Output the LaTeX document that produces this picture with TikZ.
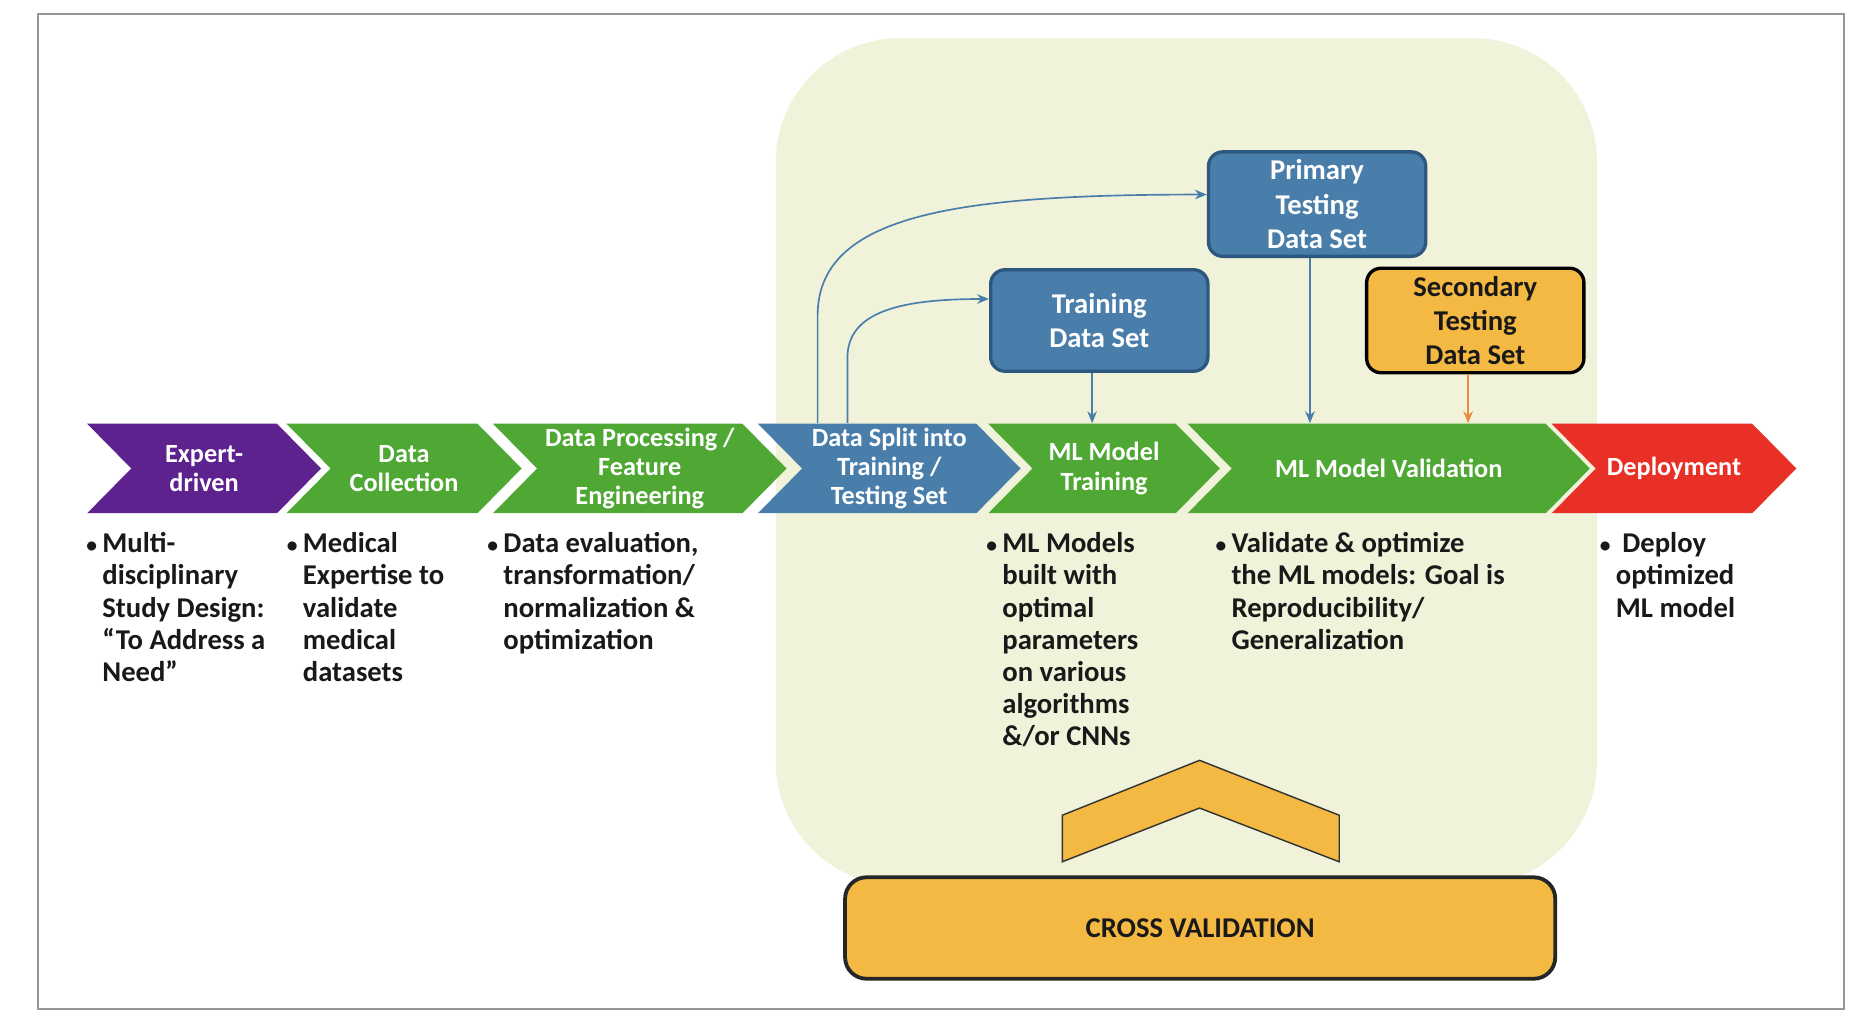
\documentclass[tikz,border=0pt]{standalone}
\usepackage{fontspec}
\setmainfont{Carlito}
\usetikzlibrary{calc,arrows.meta}
\definecolor{cpurple}{RGB}{94,34,142}
\definecolor{cgreen}{RGB}{80,168,52}
\definecolor{cblue}{RGB}{74,126,170}
\definecolor{cbluedark}{RGB}{44,88,128}
\definecolor{cred}{RGB}{232,48,38}
\definecolor{corange}{RGB}{244,185,66}
\definecolor{carrorange}{RGB}{236,140,60}
\definecolor{cbg}{RGB}{240,242,218}
\definecolor{cframe}{RGB}{150,150,150}
\definecolor{ctext}{RGB}{25,25,25}
\newcommand{\chevron}[5]{%
  \fill[#4] (#2,355) -- (#3,355) -- (#3+37,392.5) -- (#3,430) -- (#2,430) -- (#2+37,392.5) -- cycle;
  \node[chevtext] (#1) at ({(#2+#3+37)/2},392.5) {#5};
}
\newcommand{\blist}[1]{\begin{tabular}[t]{@{}p{6.7pt}@{}l@{}}{\fontsize{9}{9}\selectfont\textbullet} & #1\end{tabular}}
\begin{document}
\begin{tikzpicture}[x=0.5pt,y=-0.5pt,
  chevtext/.style={text=white, inner sep=0pt, minimum height=37.5pt, align=center,
    font=\fontsize{11}{12.3}\selectfont\bfseries},
  bullets/.style={anchor=base west, inner sep=0pt, text=ctext,
    font=\fontsize{12}{13.5}\selectfont\bfseries},
  dsbox/.style={draw=cbluedark, fill=cblue, line width=1.4pt, rounded corners=6pt,
    minimum width=91pt, minimum height=42.5pt, align=center, text=white,
    font=\fontsize{12}{14.3}\selectfont\bfseries},
  secbox/.style={dsbox, draw=black, fill=corange, text=ctext},
  cvbox/.style={draw=black!85, fill=corange, line width=1.6pt, rounded corners=9pt,
    minimum width=297.5pt, minimum height=42.5pt, text=ctext,
    font=\fontsize{12}{14}\selectfont\bfseries},
  barrow/.style={cblue, line width=0.7pt, -{Stealth[length=5pt,width=4pt]}},
  oarrow/.style={barrow, carrorange}
]
\useasboundingbox (0,0) rectangle (1560,856);
\fill[white] (0,0) rectangle (1560,856);
\draw[cframe, line width=0.8pt] (32,12) rectangle (1545,845);
% background panel
\fill[cbg, rounded corners=52pt] (650,32) rectangle (1338,742);
% chevrons
\chevron{exp}{73}{232}{cpurple}{Expert-\\driven}
\chevron{col}{240}{400}{cgreen}{Data\\Collection}
\chevron{proc}{413}{622}{cgreen}{Data Processing /\\Feature\\Engineering}
\chevron{split}{635}{818}{cblue}{Data Split into\\Training /\\Testing Set}
\chevron{mlt}{828}{985}{cgreen}{ML Model\\Training}
\chevron{mlv}{995}{1295}{cgreen}{ML Model Validation}
\chevron{dep}{1300}{1468}{cred}{Deployment}
% data set boxes
\node[dsbox] (trn) at (921,268.5) {Training\\Data Set};
\node[dsbox] (prim) at (1103.5,171) {Primary\\Testing\\Data Set};
\node[secbox] (sec) at (1236,268.5) {Secondary\\Testing\\Data Set};
% arrows
\coordinate (sa) at ($(split.north)+(-60,0)$);
\coordinate (sb) at ($(split.north)+(-35,0)$);
\draw[barrow] (sa) -- ++(0,-90) .. controls +(0,-85) and ($(prim.west)+(-210,-8)$) .. ($(prim.west)+(0,-8)$);
\draw[barrow] (sb) -- ++(0,-55) .. controls +(0,-40) and ($(trn.west)+(-70,-18)$) .. ($(trn.west)+(0,-18)$);
\draw[barrow] ($(trn.south)+(-6,0)$) -- ($(trn.south |- mlt.north)+(-6,0)$);
\draw[barrow] ($(prim.south)+(-6,0)$) -- ($(prim.south |- mlv.north)+(-6,0)$);
\draw[oarrow] ($(sec.south)+(-6,0)$) -- ($(sec.south |- mlv.north)+(-6,0)$);
% bullet texts
\node[bullets] (b1) at (72,463) {\blist{Multi-\\& disciplinary\\& Study Design:\\& “To Address a\\& Need”}};
\node[bullets] (b2) at (240,463) {\blist{Medical\\& Expertise to\\& validate\\& medical\\& datasets}};
\node[bullets] (b3) at (408,463) {\blist{Data evaluation,\\& transformation/\\& normalization \&\\& optimization}};
\node[bullets] (b4) at (826,463) {\blist{ML Models\\& built with\\& optimal\\& parameters\\& on various\\& algorithms\\& \&/or CNNs}};
\node[bullets] (b5) at (1018,463) {\blist{Validate \& optimize\\& the ML models: Goal is\\& Reproducibility/\\& Generalization}};
\node[bullets] (b6) at (1340,463) {\blist{\ Deploy\\& optimized\\& ML model}};
% cross validation
\filldraw[fill=corange, draw=black!80, line width=0.6pt, line join=miter]
  (890,722) -- (890,683) -- (1005,637) -- (1122,683) -- (1122,722) -- (1005,677) -- cycle;
\node[cvbox] (cv) at (1005.5,777.5) {CROSS VALIDATION};
\end{tikzpicture}
\end{document}
